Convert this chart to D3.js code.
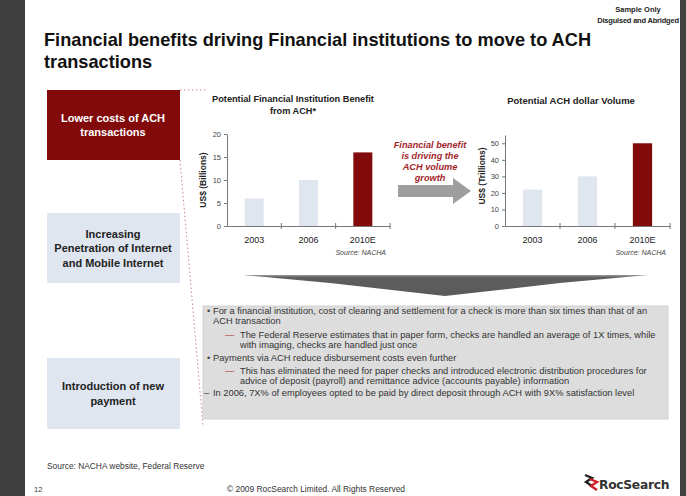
<!DOCTYPE html>
<html>
<head>
<meta charset="utf-8">
<script src="https://cdn.jsdelivr.net/npm/d3@7"></script>
<style>
  body { margin: 0; background: #404040; }
  svg { display: block; font-family: "Liberation Sans", Arial, sans-serif; }
</style>
</head>
<body>
<div id="slide"></div>
<script>
// chart data
const years = ["2003", "2006", "2010E"];
const benefitValues = [6, 10, 16];      // US$ billions
const volumeValues = [22, 30, 50];      // US$ trillions
const benefitTicks = [0, 5, 10, 15, 20];
const volumeTicks = [0, 10, 20, 30, 40, 50];

const drivers = [
  ["Lower costs of ACH", "transactions"],
  ["Increasing", "Penetration of Internet", "and Mobile Internet"],
  ["Introduction of new", "payment"]
];

// text box lines: [kind, text]
const notes = [
  ["bullet", "For a financial institution, cost of clearing and settlement for a check is more than six times than that of an"],
  ["cont", "ACH transaction"],
  ["dash", "The Federal Reserve estimates that in paper form, checks are handled an average of 1X times, while"],
  ["subcont", "with imaging, checks are handled just once"],
  ["bullet", "Payments via ACH reduce disbursement costs even further"],
  ["dash", "This has eliminated the need for paper checks and introduced electronic distribution procedures for"],
  ["subcont", "advice of deposit (payroll) and remittance advice (accounts payable) information"],
  ["endash", "In 2006, 7X% of employees opted to be paid by direct deposit through ACH with 9X% satisfaction level"]
];

const W = 686, H = 496;
const red = "#820a0a", pale = "#dfe6f0";

const svg = d3.select("#slide").append("svg")
  .attr("width", W).attr("height", H);

// page
svg.append("rect").attr("width", W).attr("height", H).attr("fill", "#404040");
svg.append("rect").attr("x", 25).attr("y", 0).attr("width", 655).attr("height", H).attr("fill", "#fff");

// header
svg.append("text").attr("x", 638).attr("y", 12).attr("text-anchor", "middle")
  .attr("font-size", 7.5).attr("font-weight", "bold").attr("fill", "#222").text("Sample Only");
svg.append("text").attr("x", 638).attr("y", 23).attr("text-anchor", "middle")
  .attr("font-size", 7.5).attr("font-weight", "bold").attr("fill", "#222")
  .attr("letter-spacing", -0.2).text("Disguised and Abridged");

const title = svg.append("text").attr("x", 44).attr("font-size", 18.2)
  .attr("font-weight", "bold").attr("fill", "#111");
title.append("tspan").attr("x", 44).attr("y", 46)
  .text("Financial benefits driving Financial institutions to move to ACH");
title.append("tspan").attr("x", 44).attr("y", 68).text("transactions");

// left boxes
const boxes = [
  {y: 90, h: 70, fill: red, color: "#fff"},
  {y: 213, h: 70, fill: pale, color: "#222"},
  {y: 358, h: 71, fill: pale, color: "#222"}
];
boxes.forEach((b, i) => {
  svg.append("rect").attr("x", 47).attr("y", b.y).attr("width", 133).attr("height", b.h).attr("fill", b.fill);
  const lines = drivers[i];
  const t = svg.append("text").attr("text-anchor", "middle").attr("font-size", 11)
    .attr("font-weight", "bold").attr("fill", b.color);
  const y0 = b.y + b.h / 2 - (lines.length - 1) * 14.5 / 2 + 4;
  lines.forEach((l, j) => t.append("tspan").attr("x", 113).attr("y", y0 + j * 14.5).text(l));
});

// dotted connector
svg.append("path")
  .attr("d", "M180,90 L207,90 M180,160 L203,426")
  .attr("fill", "none").attr("stroke", "#c98585").attr("stroke-width", 1)
  .attr("stroke-dasharray", "1.5,2.5");

// bar chart helper
function barChart(opt) {
  const x = d3.scaleBand().domain(years).range([opt.x0, opt.x1])
    .paddingInner(0.65).paddingOuter(0.325);
  const y = d3.scaleLinear().domain([0, opt.max]).range([226, opt.top]);
  const g = svg.append("g");

  g.selectAll("rect.bar").data(opt.values).enter().append("rect")
    .attr("class", "bar")
    .attr("x", (d, i) => x(years[i]))
    .attr("y", d => y(d))
    .attr("width", x.bandwidth())
    .attr("height", d => y(0) - y(d))
    .attr("fill", (d, i) => i === years.length - 1 ? red : pale);

  const ya = g.append("g").attr("transform", `translate(${opt.x0},0)`)
    .call(d3.axisLeft(y).tickValues(opt.ticks).tickSize(3).tickSizeOuter(0).tickPadding(3));
  ya.selectAll("text").attr("font-size", 7.5).attr("fill", "#444").attr("font-family", "Liberation Sans, Arial");
  ya.selectAll("line, path").attr("stroke", "#777");

  const xa = g.append("g").attr("transform", "translate(0,226)")
    .call(d3.axisBottom(x).tickSize(0).tickPadding(11));
  xa.selectAll("text").attr("font-size", 9).attr("fill", "#222").attr("font-family", "Liberation Sans, Arial");
  xa.select("path").attr("stroke", "#777");
  // category boundary ticks
  g.selectAll("line.sep").data(years).enter().append("line")
    .attr("class", "sep")
    .attr("x1", (d, i) => opt.x0 + x.step() * (i + 1))
    .attr("x2", (d, i) => opt.x0 + x.step() * (i + 1))
    .attr("y1", 223).attr("y2", 229).attr("stroke", "#777");

  const tt = g.append("text").attr("text-anchor", "middle").attr("font-size", opt.titleSize)
    .attr("font-weight", "bold").attr("fill", "#222");
  opt.title.forEach((l, j) => tt.append("tspan").attr("x", opt.titleX).attr("y", opt.titleY + j * 12).text(l));

  g.append("text").attr("transform", `translate(${opt.labelX},${opt.labelY}) rotate(-90)`)
    .attr("text-anchor", "middle").attr("font-size", 8.5).attr("font-weight", "bold")
    .attr("fill", "#222").text(opt.label);

  g.append("text").attr("x", opt.x1 - 4).attr("y", 255).attr("text-anchor", "end")
    .attr("font-size", 7).attr("font-style", "italic").attr("fill", "#444").text("Source: NACHA");
}

barChart({x0: 227, x1: 390, top: 134, max: 20, ticks: benefitTicks, values: benefitValues,
  title: ["Potential Financial Institution Benefit", "from ACH*"], titleX: 293, titleY: 102, titleSize: 9.2,
  label: "US$ (Billions)", labelX: 206, labelY: 180});
barChart({x0: 505, x1: 670, top: 135, max: 55, ticks: volumeTicks, values: volumeValues,
  title: ["Potential ACH dollar Volume"], titleX: 571, titleY: 104, titleSize: 9.5,
  label: "US$ (Trillions)", labelX: 485, labelY: 176});

// middle callout
const call = svg.append("text").attr("text-anchor", "middle").attr("font-size", 9.2)
  .attr("font-weight", "bold").attr("font-style", "italic").attr("fill", "#a3262b");
["Financial benefit", "is driving the", "ACH volume", "growth"].forEach((l, j) =>
  call.append("tspan").attr("x", 430).attr("y", 148 + j * 11).text(l));
svg.append("path")
  .attr("d", "M398,185 L453,185 L453,178 L471,191 L453,204 L453,197 L398,197 Z")
  .attr("fill", "#9e9e9e");

// down chevron
const grad = svg.append("defs").append("linearGradient").attr("id", "chev")
  .attr("x1", 0).attr("x2", 0).attr("y1", 0).attr("y2", 1);
grad.append("stop").attr("offset", 0).attr("stop-color", "#9a9a9a");
grad.append("stop").attr("offset", 0.12).attr("stop-color", "#5e5e5e");
grad.append("stop").attr("offset", 1).attr("stop-color", "#5a5a5a");
svg.append("path")
  .attr("d", "M243,275 L648,275 L560,283 L445,296 L330,283 Z")
  .attr("fill", "url(#chev)");

// notes box
svg.append("rect").attr("x", 203).attr("y", 306).attr("width", 465).attr("height", 113)
  .attr("fill", "#dddddd").attr("stroke", "#d2d2d2");
const lineY = [314, 324, 338, 348, 361, 374, 384, 396];
const fs = 9.3;
notes.forEach(([kind, text], i) => {
  const y = lineY[i];
  let tx = 213;
  if (kind === "bullet") {
    svg.append("text").attr("x", 207).attr("y", y).attr("font-size", fs).attr("fill", "#444").text("•");
  } else if (kind === "dash") {
    svg.append("text").attr("x", 225).attr("y", y).attr("font-size", fs).attr("fill", "#a3262b").text("—");
    tx = 240;
  } else if (kind === "subcont") {
    tx = 240;
  } else if (kind === "endash") {
    svg.append("text").attr("x", 204).attr("y", y).attr("font-size", fs).attr("fill", "#444").text("–");
  }
  svg.append("text").attr("x", tx).attr("y", y).attr("font-size", fs).attr("fill", "#333").text(text);
});

// footer
svg.append("text").attr("x", 47).attr("y", 469).attr("font-size", 8.4).attr("fill", "#333")
  .text("Source:  NACHA website, Federal Reserve");
svg.append("text").attr("x", 34).attr("y", 492).attr("font-size", 7.5).attr("fill", "#333").text("12");
svg.append("text").attr("x", 227).attr("y", 492).attr("font-size", 8.4).attr("fill", "#333")
  .text("© 2009 RocSearch Limited. All Rights Reserved");

// logo
svg.append("path").attr("d", "M585,475 L592,478 L586,482 L592,486")
  .attr("fill", "none").attr("stroke", "#222").attr("stroke-width", 2.4);
svg.append("path").attr("d", "M590,479 L597,482 L591,486 L597,490")
  .attr("fill", "none").attr("stroke", "#d0202a").attr("stroke-width", 2.4);
svg.append("text").attr("x", 599).attr("y", 489).attr("font-size", 12.3).attr("font-weight", "bold")
  .attr("fill", "#333").attr("font-family", "DejaVu Sans, sans-serif").attr("letter-spacing", -0.3)
  .text("RocSearch");
</script>
</body>
</html>
